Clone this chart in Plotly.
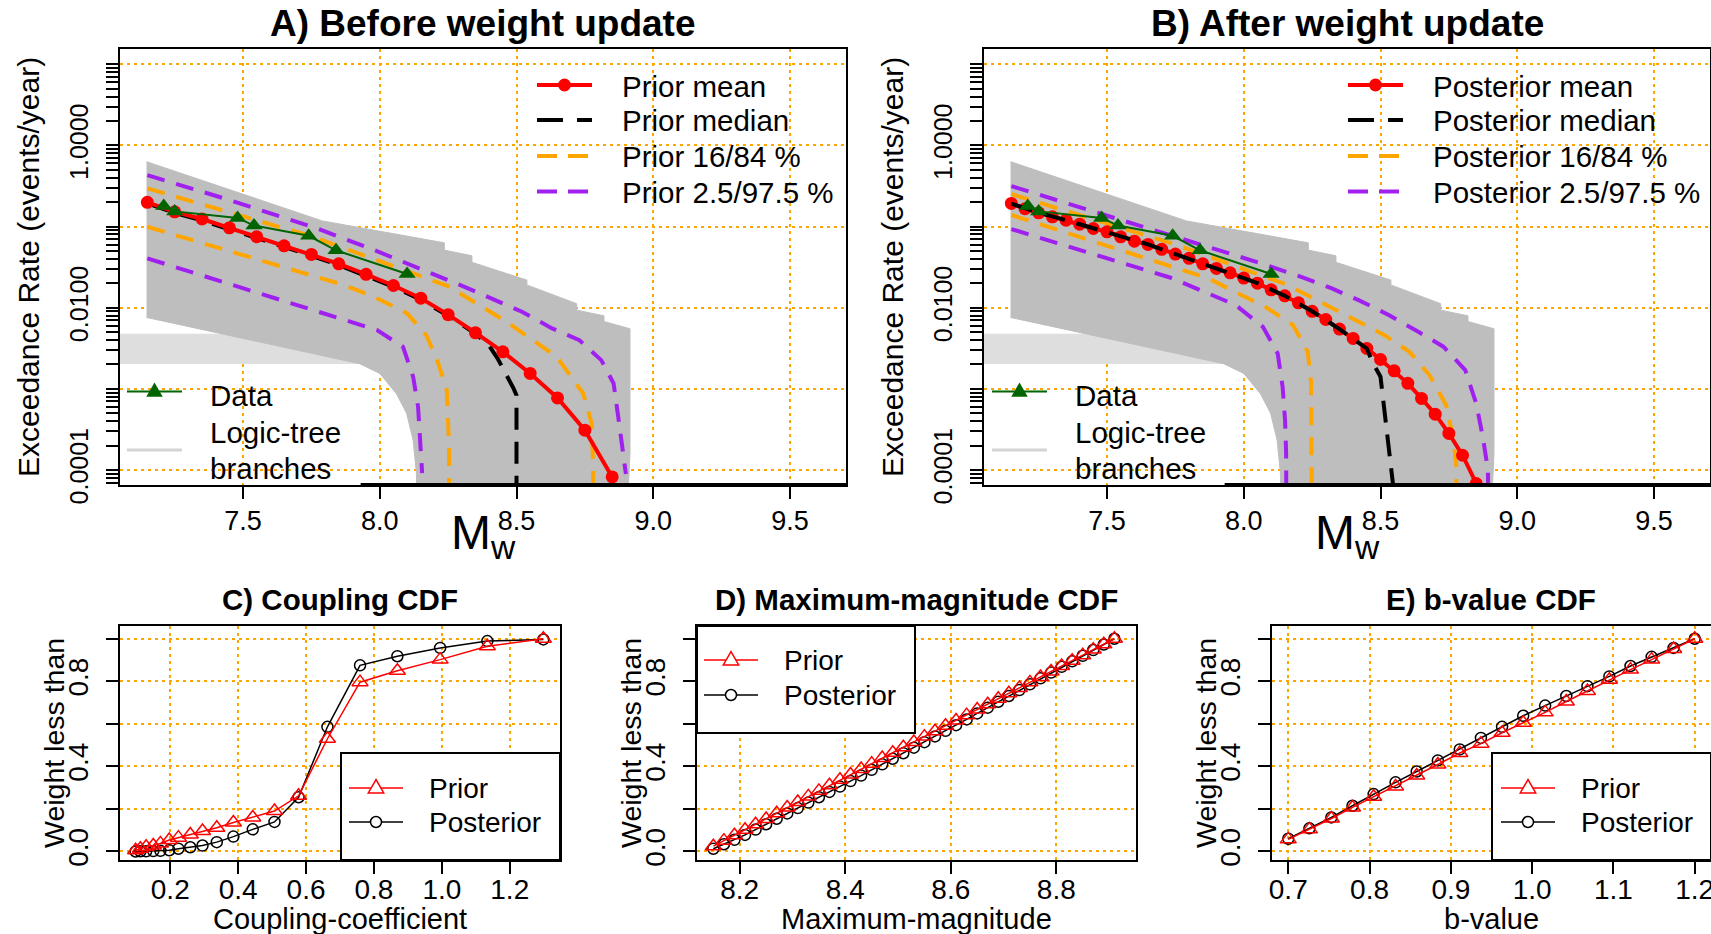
import plotly.graph_objects as go

W, H = 1711, 934
FONT = "Liberation Sans, Arial, Helvetica, sans-serif"

# ---------------- Panels A / B : exceedance rate vs magnitude ----------------
# Observed exceedance rates
data_mw = [7.21, 7.25, 7.48, 7.54, 7.74, 7.84, 8.10]
data_rate = [0.179, 0.154, 0.128, 0.103, 0.077, 0.051, 0.026]

# Outline of the logic-tree branch curves (upper edge, then lower edge back)
branch_mw = [7.147, 7.79, 8.236, 8.236, 8.337, 8.337, 8.538, 8.538, 8.72, 8.72,
             8.82, 8.82, 8.915, 8.915, 8.905,
             8.136, 8.134, 8.122, 8.098, 8.061, 8.0, 7.927, 7.147]
branch_rate = [0.631, 0.1175, 0.0631, 0.0513, 0.0437, 0.0363, 0.0219, 0.0191, 0.0112, 0.00933,
               0.00794, 0.00676, 0.0055, 0.000158, 3.16e-5,
               3.16e-5, 9.12e-5, 0.000234, 0.000501, 0.000871, 0.00155, 0.00204, 0.00759]

# Sparse (light) band of branches below the main fan
sparse_mw = [7.05, 7.927, 7.927, 7.05]
sparse_rate = [0.00472, 0.00472, 0.00206, 0.00206]

# Prior (before weight update)
prior_mean_mw = [7.15, 7.25, 7.35, 7.45, 7.55, 7.65, 7.75, 7.85, 7.95, 8.05, 8.15, 8.25,
                 8.35, 8.45, 8.55, 8.65, 8.75, 8.85]
prior_mean = [0.199, 0.152, 0.124, 0.0966, 0.0750, 0.0579, 0.0454, 0.0348, 0.0258, 0.0188,
              0.0131, 0.00822, 0.00491, 0.00286, 0.00155, 0.000774, 0.000310, 0.0000822]
prior_median_mw = [7.15, 7.25, 7.35, 7.45, 7.55, 7.65, 7.75, 7.85, 7.95, 8.05, 8.15, 8.25,
                   8.35, 8.40, 8.43, 8.46, 8.49, 8.50, 8.50]
prior_median = [0.193, 0.147, 0.119, 0.0930, 0.0722, 0.0557, 0.0437, 0.0335, 0.0248, 0.0181,
                0.0126, 0.00795, 0.00478, 0.00339, 0.00240, 0.00158, 0.00100, 0.000832, 1e-7]
prior_p84_mw = [7.15, 7.75, 8.25, 8.464, 8.647, 8.744, 8.775, 8.78, 8.782]
prior_p84 = [0.296, 0.0759, 0.01845, 0.0067, 0.00248, 0.000877, 0.000374, 0.000120, 1e-7]
prior_p16_mw = [7.15, 7.87, 7.98, 8.10, 8.17, 8.21, 8.245, 8.253, 8.255]
prior_p16 = [0.0995, 0.0190, 0.0136, 0.00851, 0.00459, 0.00226, 0.000964, 0.000212, 1e-7]
prior_p975_mw = [7.15, 7.43, 7.77, 7.98, 8.31, 8.42, 8.52, 8.63, 8.73, 8.81, 8.855, 8.872,
                 8.89, 8.90]
prior_p975 = [0.431, 0.223, 0.0951, 0.0513, 0.0181, 0.0124, 0.00891, 0.00556, 0.00398,
              0.00226, 0.00117, 0.000452, 0.000175, 0.0000891]
prior_p025_mw = [7.15, 7.87, 7.99, 8.085, 8.122, 8.14, 8.153, 8.155]
prior_p025 = [0.0406, 0.00703, 0.00530, 0.00330, 0.00141, 0.000603, 0.000145, 0.0000912]

# Posterior (after weight update)
post_mean_mw = [7.15, 7.20, 7.25, 7.30, 7.35, 7.40, 7.45, 7.50, 7.55, 7.60, 7.65, 7.70,
                7.75, 7.80, 7.85, 7.90, 7.95, 8.00, 8.05, 8.10, 8.15, 8.20, 8.25, 8.30,
                8.35, 8.40, 8.45, 8.50, 8.55, 8.60, 8.65, 8.70, 8.75, 8.80, 8.85]
post_mean = [0.193, 0.166, 0.148, 0.132, 0.120, 0.107, 0.0948, 0.0863, 0.0748, 0.0662,
             0.0603, 0.0524, 0.0458, 0.0406, 0.0348, 0.0305, 0.0269, 0.0232, 0.0201, 0.0166,
             0.0140, 0.0115, 0.00904, 0.00716, 0.00545, 0.00418, 0.00315, 0.00230, 0.00167,
             0.00117, 0.000762, 0.000488, 0.000282, 0.000152, 0.0000682]
post_median_mw = [7.15, 7.25, 7.35, 7.45, 7.55, 7.65, 7.75, 7.85, 7.95, 8.05, 8.15, 8.25,
                  8.35, 8.45, 8.47, 8.50, 8.55, 8.55]
post_median = [0.192, 0.148, 0.120, 0.0948, 0.0748, 0.0603, 0.0458, 0.0348, 0.0269, 0.0201,
               0.0140, 0.00904, 0.00545, 0.00315, 0.00214, 0.00141, 0.0000501, 1e-7]
post_p84_mw = [7.15, 7.75, 8.16, 8.41, 8.515, 8.606, 8.679, 8.74, 8.765, 8.777, 8.78]
post_p84 = [0.251, 0.0603, 0.0191, 0.00703, 0.00459, 0.00286, 0.00148, 0.000631, 0.000256,
            0.000120, 1e-7]
post_p16_mw = [7.15, 7.87, 7.98, 8.08, 8.18, 8.234, 8.246, 8.252, 8.254]
post_p16 = [0.139, 0.0230, 0.0150, 0.0102, 0.00611, 0.00286, 0.00122, 0.000193, 1e-7]
post_p975_mw = [7.15, 7.62, 8.07, 8.21, 8.32, 8.42, 8.53, 8.64, 8.73, 8.81, 8.85, 8.874,
                8.893, 8.90]
post_p975 = [0.316, 0.102, 0.0347, 0.0240, 0.0174, 0.0124, 0.00813, 0.00501, 0.00331,
             0.00170, 0.000661, 0.000257, 0.0001, 1e-7]
post_p025_mw = [7.15, 7.73, 7.87, 7.97, 8.07, 8.124, 8.142, 8.151, 8.155, 8.157]
post_p025 = [0.0933, 0.0236, 0.0150, 0.0108, 0.00581, 0.00273, 0.00106, 0.000411, 0.000160,
             1e-7]

# ---------------- Panels C / D / E : weight CDFs ----------------
coupling = [0.098, 0.112, 0.129, 0.150, 0.171, 0.197, 0.224, 0.259, 0.295, 0.337, 0.386,
            0.443, 0.507, 0.578, 0.663, 0.759, 0.869, 0.995, 1.134, 1.299]
coupling_prior = [0.006, 0.013, 0.022, 0.028, 0.038, 0.054, 0.065, 0.080, 0.096, 0.112,
                  0.136, 0.160, 0.190, 0.262, 0.530, 0.796, 0.850, 0.902, 0.965, 1.0]
coupling_post = [0.000, 0.001, 0.001, 0.002, 0.003, 0.006, 0.013, 0.020, 0.028, 0.044,
                 0.070, 0.104, 0.139, 0.255, 0.586, 0.875, 0.918, 0.957, 0.989, 0.997]

mmax = [8.15, 8.17, 8.19, 8.21, 8.23, 8.25, 8.27, 8.29, 8.31, 8.33, 8.35, 8.37, 8.39,
        8.41, 8.43, 8.45, 8.47, 8.49, 8.51, 8.53, 8.55, 8.57, 8.59, 8.61, 8.63, 8.65,
        8.67, 8.69, 8.71, 8.73, 8.75, 8.77, 8.79, 8.81, 8.83, 8.85, 8.87, 8.89, 8.91]
mmax_prior = [0.025, 0.051, 0.076, 0.102, 0.128, 0.153, 0.180, 0.207, 0.233, 0.259, 0.285,
              0.311, 0.337, 0.362, 0.388, 0.413, 0.439, 0.464, 0.490, 0.515, 0.540, 0.565,
              0.591, 0.616, 0.641, 0.667, 0.692, 0.718, 0.744, 0.769, 0.795, 0.820, 0.846,
              0.872, 0.897, 0.923, 0.949, 0.974, 1.000]
mmax_post = [0.013, 0.034, 0.055, 0.078, 0.103, 0.128, 0.154, 0.179, 0.204, 0.230, 0.255,
             0.280, 0.305, 0.331, 0.357, 0.384, 0.410, 0.436, 0.462, 0.488, 0.514, 0.541,
             0.567, 0.594, 0.621, 0.649, 0.676, 0.704, 0.731, 0.759, 0.786, 0.814, 0.841,
             0.868, 0.894, 0.920, 0.947, 0.973, 1.000]

bvalue = [0.700, 0.726, 0.753, 0.779, 0.805, 0.832, 0.858, 0.884, 0.911, 0.937, 0.963,
          0.989, 1.016, 1.042, 1.068, 1.095, 1.121, 1.147, 1.174, 1.200]
bvalue_prior = [0.057, 0.104, 0.155, 0.207, 0.257, 0.306, 0.357, 0.409, 0.463, 0.507,
                0.558, 0.605, 0.654, 0.705, 0.755, 0.807, 0.855, 0.902, 0.952, 1.0]
bvalue_post = [0.060, 0.109, 0.160, 0.215, 0.270, 0.325, 0.376, 0.428, 0.480, 0.534,
               0.586, 0.638, 0.686, 0.731, 0.777, 0.823, 0.872, 0.915, 0.957, 1.0]

# ---------------- helpers ----------------
def fx(p):
    return p / W


def fy(p):
    return 1 - p / H


PURPLE = "#A020F0"
ORANGE = "#FFA500"
GREY = "#BEBEBE"
GREEN = "#006400"
DASH = "18px,12px"
MED_DASH = "22px,12px"

GRID = dict(showgrid=True, gridcolor=ORANGE, griddash="3px,4px", gridwidth=2)
AX = dict(showline=True, linecolor="black", linewidth=2, mirror=True, ticks="outside",
          ticklen=12, tickwidth=2, tickcolor="black", zeroline=False, automargin=False,
          **GRID)

fig = go.Figure()


def rate_panel(xa, ya, mean, median, p84, p16, p975, p025, median_on_top):
    kw = dict(xaxis=xa, yaxis=ya, showlegend=False, hoverinfo="skip")
    fig.add_trace(go.Scatter(x=sparse_mw, y=sparse_rate, fill="toself", fillcolor="#DEDEDE",
                             mode="lines", line=dict(color="#DEDEDE", width=1), **kw))
    fig.add_trace(go.Scatter(x=branch_mw, y=branch_rate, fill="toself", fillcolor=GREY,
                             mode="lines", line=dict(color=GREY, width=1), **kw))
    for (xs, ys), col in [(p975, PURPLE), (p025, PURPLE), (p84, ORANGE), (p16, ORANGE)]:
        fig.add_trace(go.Scatter(x=xs, y=ys, mode="lines",
                                 line=dict(color=col, width=4, dash=DASH), **kw))
    med = go.Scatter(x=median[0], y=median[1], mode="lines",
                     line=dict(color="black", width=4, dash=MED_DASH), **kw)
    mn = go.Scatter(x=mean[0], y=mean[1], mode="lines+markers",
                    line=dict(color="red", width=4),
                    marker=dict(symbol="circle", size=13, color="red"), **kw)
    for tr in ([mn, med] if median_on_top else [med, mn]):
        fig.add_trace(tr)
    fig.add_trace(go.Scatter(x=data_mw, y=data_rate, mode="lines+markers",
                             line=dict(color=GREEN, width=2),
                             marker=dict(symbol="triangle-up", size=15, color=GREEN), **kw))


rate_panel("x", "y",
           (prior_mean_mw, prior_mean), (prior_median_mw, prior_median),
           (prior_p84_mw, prior_p84), (prior_p16_mw, prior_p16),
           (prior_p975_mw, prior_p975), (prior_p025_mw, prior_p025), False)
rate_panel("x2", "y2",
           (post_mean_mw, post_mean), (post_median_mw, post_median),
           (post_p84_mw, post_p84), (post_p16_mw, post_p16),
           (post_p975_mw, post_p975), (post_p025_mw, post_p025), True)


def cdf_panel(xa, ya, xs, prior, post):
    kw = dict(xaxis=xa, yaxis=ya, showlegend=False, hoverinfo="skip")
    fig.add_trace(go.Scatter(x=xs, y=post, mode="lines+markers",
                             line=dict(color="black", width=1.5),
                             marker=dict(symbol="circle-open", size=11, color="black",
                                         line=dict(width=1.5)), **kw))
    fig.add_trace(go.Scatter(x=xs, y=prior, mode="lines+markers",
                             line=dict(color="red", width=1.5),
                             marker=dict(symbol="triangle-up-open", size=14, color="red",
                                         line=dict(width=1.5)), **kw))


cdf_panel("x3", "y3", coupling, coupling_prior, coupling_post)
cdf_panel("x4", "y4", mmax, mmax_prior, mmax_post)
cdf_panel("x5", "y5", bvalue, bvalue_prior, bvalue_post)

# ---------------- axes ----------------
TOP = dict(domain=[fy(485), fy(49)])
decades = [1e-4, 1e-3, 1e-2, 1e-1, 1, 10]
decade_text = ["0.0001", " ", "0.0100", " ", "1.0000", " "]
minor_vals = [m * 10.0 ** k for k in range(-5, 2) for m in range(2, 10)
              if 6.5e-5 < m * 10.0 ** k < 15.5]

xtop = dict(AX, range=[7.05, 9.705], tickvals=[7.5, 8.0, 8.5, 9.0, 9.5],
            ticktext=["7.5", "8.0", "8.5", "9.0", "9.5"], tickfont=dict(size=27, family=FONT),
            ticklabelstandoff=-1)
ytop = dict(AX, type="log", range=[-4.185, 1.189], tickvals=decades, ticktext=decade_text,
            tickangle=-90, tickfont=dict(size=25, family=FONT), ticklabelstandoff=8,
            minor=dict(tickvals=minor_vals, ticks="outside", ticklen=12, tickwidth=2,
                       tickcolor="black", showgrid=False))

ycdf = dict(AX, range=[-0.04, 1.06], tickvals=[0, 0.2, 0.4, 0.6, 0.8, 1.0],
            ticktext=["0.0", " ", "0.4", " ", "0.8", " "], tickangle=-90,
            tickfont=dict(size=28, family=FONT), ticklabelstandoff=7)
BOT = [fy(860), fy(626)]
xbot = dict(AX, tickfont=dict(size=28, family=FONT), ticklabelstandoff=-9)

fig.update_layout(
    xaxis=dict(xtop, domain=[fx(120), fx(846)], anchor="y"),
    yaxis=dict(ytop, **TOP, anchor="x"),
    xaxis2=dict(xtop, domain=[fx(984), fx(1710)], anchor="y2"),
    yaxis2=dict(ytop, **TOP, anchor="x2"),
    xaxis3=dict(xbot, domain=[fx(120), fx(560)], anchor="y3", range=[0.052, 1.348],
                tickvals=[0.2, 0.4, 0.6, 0.8, 1.0, 1.2],
                ticktext=["0.2", "0.4", "0.6", "0.8", "1.0", "1.2"]),
    yaxis3=dict(ycdf, domain=BOT, anchor="x3"),
    xaxis4=dict(xbot, domain=[fx(697), fx(1136)], anchor="y4", range=[8.119, 8.951],
                tickvals=[8.2, 8.4, 8.6, 8.8], ticktext=["8.2", "8.4", "8.6", "8.8"]),
    yaxis4=dict(ycdf, domain=BOT, anchor="x4"),
    xaxis5=dict(xbot, domain=[fx(1272), 1.0], anchor="y5", range=[0.68, 1.22],
                tickvals=[0.7, 0.8, 0.9, 1.0, 1.1, 1.2],
                ticktext=["0.7", "0.8", "0.9", "1.0", "1.1", "1.2"],
                ticklabeloverflow="allow"),
    yaxis5=dict(ycdf, domain=BOT, anchor="x5"),
)

# ---------------- legends (frames, keys and labels) ----------------
shapes = []
ann = []


def text(x, y, s, size, bold=False, angle=0, anchor="center"):
    ann.append(dict(x=fx(x), y=fy(y), xref="paper", yref="paper", showarrow=False,
                    text=f"<b>{s}</b>" if bold else s, textangle=angle,
                    font=dict(size=size, family=FONT, color="black"),
                    xanchor=anchor, yanchor="middle"))


def key_line(x0, x1, y, color, width, dash="solid"):
    shapes.append(dict(type="line", xref="paper", yref="paper", x0=fx(x0), x1=fx(x1),
                       y0=fy(y), y1=fy(y), line=dict(color=color, width=width, dash=dash)))


def key_circle(cx, cy, d, color, filled):
    r = d / 2
    shapes.append(dict(type="circle", xref="paper", yref="paper",
                       x0=fx(cx - r), x1=fx(cx + r), y0=fy(cy + r), y1=fy(cy - r),
                       fillcolor=color if filled else "white",
                       line=dict(color=color, width=0 if filled else 1.5)))


def key_triangle(cx, cy, s, color, filled):
    pts = [(cx, cy - 0.6 * s), (cx - 0.55 * s, cy + 0.35 * s), (cx + 0.55 * s, cy + 0.35 * s)]
    path = "M " + " L ".join(f"{fx(px_)},{fy(py_)}" for px_, py_ in pts) + " Z"
    shapes.append(dict(type="path", xref="paper", yref="paper", path=path,
                       fillcolor=color if filled else "white",
                       line=dict(color=color, width=0 if filled else 1.5)))


def rate_legends(dx_top, dx_bot, label):
    x0, x1, tx = 537 + dx_top, 592 + dx_top, 620 + dx_top
    rows = [85, 120, 156, 191.5]
    key_line(x0, x1, rows[0], "red", 4)
    key_circle((x0 + x1) / 2, rows[0], 13, "red", True)
    key_line(x0, x1, rows[1], "black", 4, "26px,14px")
    key_line(x0, x1, rows[2], ORANGE, 4, "20px,11px")
    key_line(x0, x1, rows[3], PURPLE, 4, "20px,11px")
    for y, s in zip(rows, [f"{label} mean", f"{label} median", f"{label} 16/84 %",
                           f"{label} 2.5/97.5 %"]):
        text(tx, y + 1, s, 29.5, anchor="left")
    # lower-left legend: observations and branch curves
    bx0, bx1, btx = 127 + dx_bot, 182 + dx_bot, 208 + dx_bot
    key_line(bx0, bx1, 391.5, GREEN, 2)
    key_triangle((bx0 + bx1) / 2, 391.5, 15, GREEN, True)
    text(btx, 395, "Data", 29.5, anchor="left")
    key_line(bx0, bx1, 450, "#D3D3D3", 3)
    text(btx, 433, "Logic-tree", 29.5, anchor="left")
    text(btx, 468, "branches", 29.5, anchor="left")


rate_legends(0, 0, "Prior")
rate_legends(811, 865, "Posterior")


def cdf_legend(fx0, fy0, fx1, fy1, kx0, tx, rows):
    shapes.append(dict(type="rect", xref="paper", yref="paper", x0=fx(fx0), x1=fx(fx1),
                       y0=fy(fy1), y1=fy(fy0), fillcolor="white",
                       line=dict(color="black", width=2), layer="above"))
    kx1 = kx0 + 54
    key_line(kx0, kx1, rows[0], "red", 1.5)
    key_triangle((kx0 + kx1) / 2, rows[0], 14, "red", False)
    key_line(kx0, kx1, rows[1], "black", 1.5)
    key_circle((kx0 + kx1) / 2, rows[1], 11, "black", False)
    text(tx, rows[0], "Prior", 28, anchor="left")
    text(tx, rows[1], "Posterior", 28, anchor="left")


cdf_legend(341, 753, 560, 860, 349, 427, [788, 822])
cdf_legend(697, 626, 915, 733, 704, 782, [660, 695])
cdf_legend(1492, 753, 1711, 860, 1501, 1579, [788, 822])

# floor of the branch curves along the bottom frame
for xa, ya in [("x", "y"), ("x2", "y2")]:
    shapes.append(dict(type="line", xref=xa, yref=f"{ya} domain", x0=7.93, x1=9.705,
                       y0=0, y1=0, line=dict(color="black", width=4)))

# ---------------- titles ----------------
text(483, 24, "A) Before weight update", 37, bold=True)
text(1347, 24, "B) After weight update", 37, bold=True)
text(29, 267, "Exceedance Rate (events/year)", 30, angle=-90)
text(893, 267, "Exceedance Rate (events/year)", 30, angle=-90)
text(483, 536, "M<sub>w</sub>", 48)
text(1347, 536, "M<sub>w</sub>", 48)
text(340, 599, "C) Coupling CDF", 29.5, bold=True)
text(916, 599, "D) Maximum-magnitude CDF", 29.5, bold=True)
text(1491, 599, "E) b-value CDF", 29.5, bold=True)
text(340, 919, "Coupling-coefficient", 29)
text(916, 919, "Maximum-magnitude", 29)
text(1491, 919, "b-value", 29)
for xl in [54, 631, 1206]:
    text(xl, 743, "Weight less than", 28.5, angle=-90)

fig.update_layout(shapes=shapes, annotations=ann)
fig.update_layout(width=W, height=H, margin=dict(l=0, r=0, t=0, b=0, autoexpand=False),
                  paper_bgcolor="white", plot_bgcolor="white", showlegend=False,
                  font=dict(family=FONT, color="black"), hovermode=False)

fig.write_html("out.html")
